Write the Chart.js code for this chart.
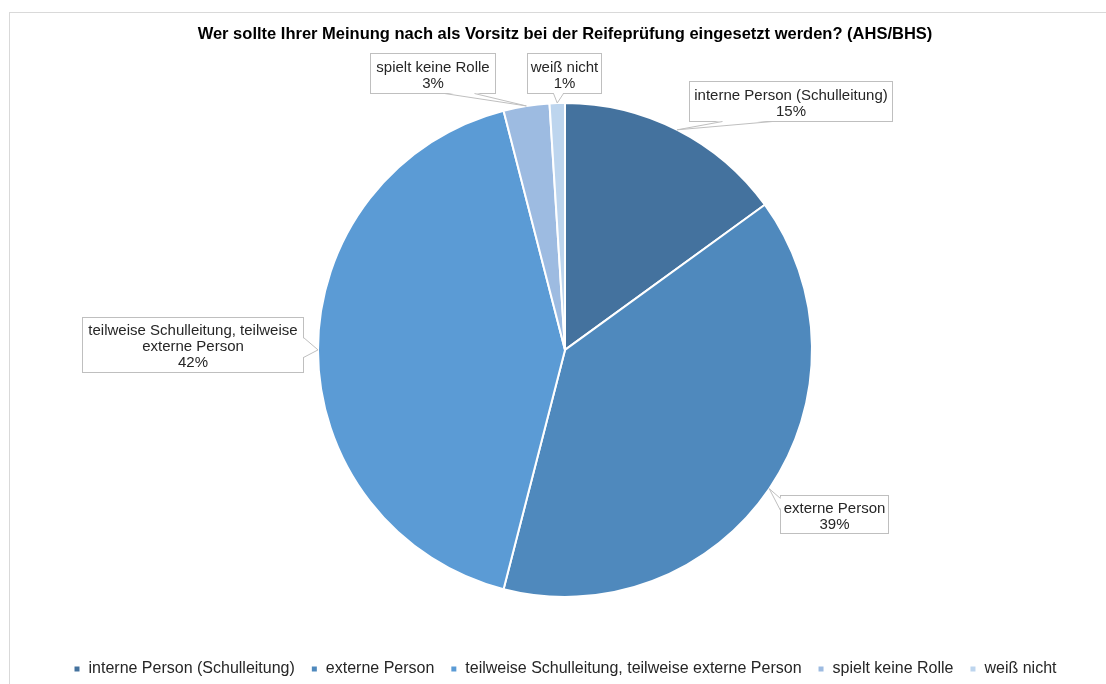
<!DOCTYPE html>
<html>
<head>
<meta charset="utf-8">
<script src="https://cdn.jsdelivr.net/npm/chart.js@4/dist/chart.umd.min.js"></script>
<style>
  html, body { margin: 0; padding: 0; background: #fff; overflow: hidden; }
  #wrap { position: absolute; left: 0; top: 0; width: 1106px; height: 684px; overflow: hidden; }
  #frame { position: absolute; left: 9px; top: 12px; width: 1200px; height: 800px; border: 1px solid #d9d9d9; }
</style>
</head>
<body>
<div id="frame"></div>
<div id="wrap"><canvas id="pie" width="1106" height="687"></canvas></div>
<script>
// daten
var categories = ["interne Person (Schulleitung)", "externe Person", "teilweise Schulleitung, teilweise externe Person", "spielt keine Rolle", "weiß nicht"];
var values = [15, 39, 42, 3, 1];
var valueLabels = ["15%", "39%", "42%", "3%", "1%"];
var labelLines = [
  ["interne Person (Schulleitung)"],
  ["externe Person"],
  ["teilweise Schulleitung, teilweise", "externe Person"],
  ["spielt keine Rolle"],
  ["weiß nicht"]
];
var colors = ["#44729e", "#4f89bd", "#5b9bd5", "#9dbbe1", "#bdd5ee"];

// lage der beschriftungen (relativ zum mittelpunkt), keil an welcher kante
var boxes = [
  { dx: 225, dy: -249, w: 203, h: 40, edge: "bottom", a: 33, b: 83 },
  { dx: 269, dy: 164, w: 108, h: 38, edge: "left", a: 3, b: 15 },
  { dx: -373, dy: -5, w: 221, h: 55, edge: "right", a: 20, b: 40 },
  { dx: -133, dy: -277, w: 125, h: 40, edge: "bottom", a: 74, b: 104 },
  { dx: -1, dy: -277, w: 74, h: 40, edge: "bottom", a: 26, b: 36 }
];

var calloutPlugin = {
  id: "callouts",
  afterDatasetsDraw: function(chart) {
    var ctx = chart.ctx;
    var meta = chart.getDatasetMeta(0);
    meta.data.forEach(function(arc, i) {
      var p = arc.getProps(["x", "y", "startAngle", "endAngle", "outerRadius"], true);
      var mid = (p.startAngle + p.endAngle) / 2;
      var tx = p.x + Math.cos(mid) * p.outerRadius;
      var ty = p.y + Math.sin(mid) * p.outerRadius;
      var b = boxes[i];
      var left = Math.round(p.x + b.dx - b.w / 2) + 0.5;
      var top = Math.round(p.y + b.dy - b.h / 2) + 0.5;
      var p1, p2, q1, q2;
      if (b.edge === "bottom") {
        p1 = [left + b.a, top + b.h]; p2 = [left + b.b, top + b.h];
        q1 = [p1[0], p1[1] - 1]; q2 = [p2[0], p2[1] - 1];
      } else if (b.edge === "left") {
        p1 = [left, top + b.a]; p2 = [left, top + b.b];
        q1 = [p1[0] + 1, p1[1]]; q2 = [p2[0] + 1, p2[1]];
      } else {
        p1 = [left + b.w, top + b.a]; p2 = [left + b.w, top + b.b];
        q1 = [p1[0] - 1, p1[1]]; q2 = [p2[0] - 1, p2[1]];
      }
      ctx.save();
      ctx.fillStyle = "#fff";
      ctx.strokeStyle = "#bfbfbf";
      ctx.lineWidth = 1;
      ctx.fillRect(left, top, b.w, b.h);
      ctx.strokeRect(left, top, b.w, b.h);
      ctx.beginPath();
      ctx.moveTo(q1[0], q1[1]);
      ctx.lineTo(tx, ty);
      ctx.lineTo(q2[0], q2[1]);
      ctx.closePath();
      ctx.fill();
      ctx.beginPath();
      ctx.moveTo(p1[0], p1[1]);
      ctx.lineTo(tx, ty);
      ctx.lineTo(p2[0], p2[1]);
      ctx.stroke();
      var lines = labelLines[i].concat([valueLabels[i]]);
      ctx.fillStyle = "#262626";
      ctx.font = "15px 'Liberation Sans', Arial, sans-serif";
      ctx.textAlign = "center";
      ctx.textBaseline = "middle";
      var cx = left + b.w / 2;
      var cy = top + b.h / 2 + 2 - (lines.length - 1) * 8;
      lines.forEach(function(t, k) { ctx.fillText(t, cx, cy + k * 16); });
      ctx.restore();
    });
  }
};

new Chart(document.getElementById("pie"), {
  type: "pie",
  data: {
    labels: categories,
    datasets: [{
      data: values,
      backgroundColor: colors,
      borderColor: "#ffffff",
      borderWidth: 2,
      radius: 247
    }]
  },
  options: {
    responsive: false,
    animation: false,
    layout: { padding: { left: 24, right: 0, top: 0, bottom: 0 } },
    plugins: {
      title: {
        display: true,
        text: "Wer sollte Ihrer Meinung nach als Vorsitz bei der Reifeprüfung eingesetzt werden? (AHS/BHS)",
        color: "#000",
        font: { family: "'Liberation Sans', Arial, sans-serif", size: 16.5, weight: "bold" },
        padding: { top: 25, bottom: 10 }
      },
      legend: {
        position: "bottom",
        labels: {
          usePointStyle: true,
          pointStyle: "rect",
          boxWidth: 7,
          boxHeight: 7,
          padding: 16,
          color: "#262626",
          font: { family: "'Liberation Sans', Arial, sans-serif", size: 16 }
        }
      },
      tooltip: { enabled: false }
    }
  },
  plugins: [calloutPlugin]
});
</script>
</body>
</html>
